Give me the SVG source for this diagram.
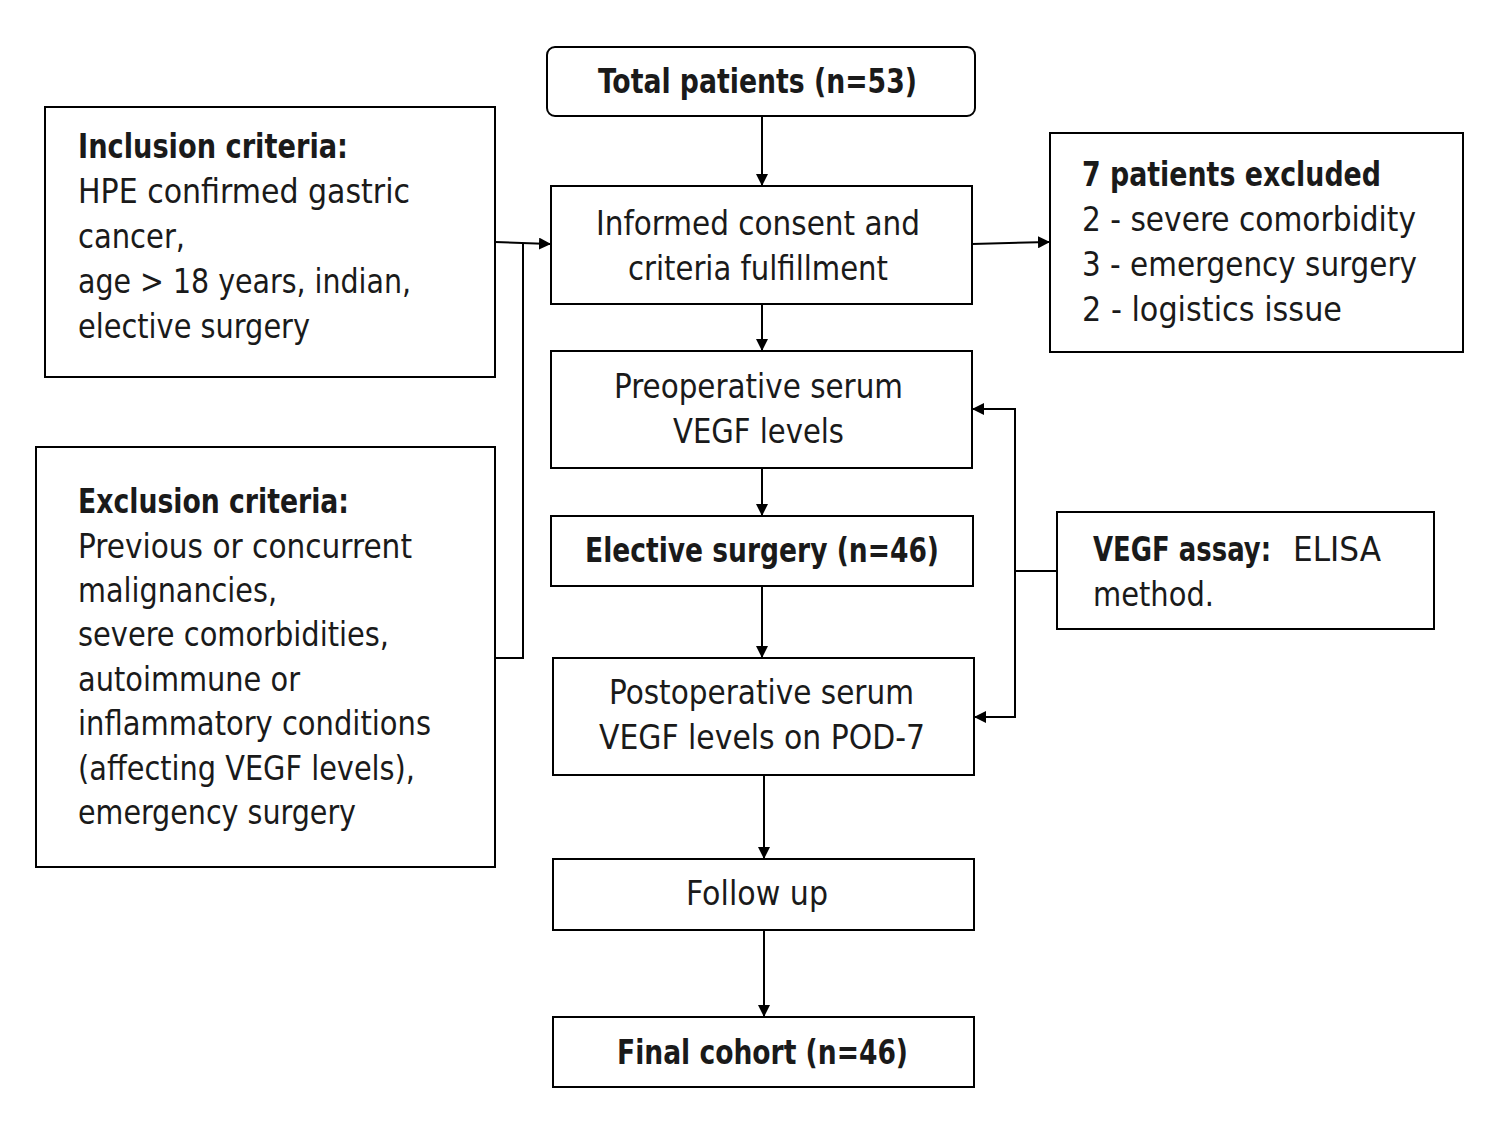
<svg xmlns="http://www.w3.org/2000/svg" width="1497" height="1122" viewBox="0 0 1497 1122">
<defs>
<marker id="ah" markerWidth="12" markerHeight="12" refX="11" refY="6" orient="auto" markerUnits="userSpaceOnUse"><path d="M0,0 L12,6 L0,12 Z" fill="#000"/></marker>
</defs>
<style>
rect{fill:#fff;stroke:#000;stroke-width:2}
text{font-family:"DejaVu Sans Condensed","Roboto","Liberation Sans",sans-serif;font-size:34px;fill:#1a1a1a}
.b{font-weight:bold}
#connectors path{fill:none;stroke:#000;stroke-width:2}
</style>
<rect width="1497" height="1122" style="fill:#fff;stroke:none"/>
<g id="total"><rect x="547" y="47" width="428" height="69" rx="8"/><text class="b" x="598" y="93" textLength="319" lengthAdjust="spacingAndGlyphs">Total patients (n=53)</text></g>
<g id="consent"><rect x="551" y="186" width="421" height="118"/><text x="596" y="235" textLength="324" lengthAdjust="spacingAndGlyphs">Informed consent and</text><text x="628" y="280" textLength="260" lengthAdjust="spacingAndGlyphs">criteria fulfillment</text></g>
<g id="preop"><rect x="551" y="351" width="421" height="117"/><text x="614" y="398" textLength="289" lengthAdjust="spacingAndGlyphs">Preoperative serum</text><text x="673" y="443" textLength="171" lengthAdjust="spacingAndGlyphs">VEGF levels</text></g>
<g id="elective"><rect x="551" y="516" width="422" height="70"/><text class="b" x="585" y="562" textLength="354" lengthAdjust="spacingAndGlyphs">Elective surgery (n=46)</text></g>
<g id="postop"><rect x="553" y="658" width="421" height="117"/><text x="609" y="704" textLength="305" lengthAdjust="spacingAndGlyphs">Postoperative serum</text><text x="599" y="749" textLength="326" lengthAdjust="spacingAndGlyphs">VEGF levels on POD-7</text></g>
<g id="followup"><rect x="553" y="859" width="421" height="71"/><text x="686" y="905" textLength="142" lengthAdjust="spacingAndGlyphs">Follow up</text></g>
<g id="final"><rect x="553" y="1017" width="421" height="70"/><text class="b" x="617" y="1064" textLength="291" lengthAdjust="spacingAndGlyphs">Final cohort (n=46)</text></g>
<g id="inclusion"><rect x="45" y="107" width="450" height="270"/>
<text class="b" x="78" y="158" textLength="270" lengthAdjust="spacingAndGlyphs">Inclusion criteria:</text>
<text x="78" y="203" textLength="332" lengthAdjust="spacingAndGlyphs">HPE confirmed gastric</text>
<text x="78" y="248" textLength="107" lengthAdjust="spacingAndGlyphs">cancer,</text>
<text x="78" y="293" textLength="333" lengthAdjust="spacingAndGlyphs">age &gt; 18 years, indian,</text>
<text x="78" y="338" textLength="232" lengthAdjust="spacingAndGlyphs">elective surgery</text></g>
<g id="exclusion"><rect x="36" y="447" width="459" height="420"/>
<text class="b" x="78" y="513" textLength="271" lengthAdjust="spacingAndGlyphs">Exclusion criteria:</text>
<text x="78" y="558" textLength="334" lengthAdjust="spacingAndGlyphs">Previous or concurrent</text>
<text x="78" y="602" textLength="199" lengthAdjust="spacingAndGlyphs">malignancies,</text>
<text x="78" y="646" textLength="311" lengthAdjust="spacingAndGlyphs">severe comorbidities,</text>
<text x="78" y="691" textLength="222" lengthAdjust="spacingAndGlyphs">autoimmune or</text>
<text x="78" y="735" textLength="353" lengthAdjust="spacingAndGlyphs">inflammatory conditions</text>
<text x="78" y="780" textLength="337" lengthAdjust="spacingAndGlyphs">(affecting VEGF levels),</text>
<text x="78" y="824" textLength="278" lengthAdjust="spacingAndGlyphs">emergency surgery</text></g>
<g id="excluded"><rect x="1050" y="133" width="413" height="219"/>
<text class="b" x="1082" y="186" textLength="299" lengthAdjust="spacingAndGlyphs">7 patients excluded</text>
<text x="1082" y="231" textLength="334" lengthAdjust="spacingAndGlyphs">2 - severe comorbidity</text>
<text x="1082" y="276" textLength="335" lengthAdjust="spacingAndGlyphs">3 - emergency surgery</text>
<text x="1082" y="321" textLength="260" lengthAdjust="spacingAndGlyphs">2 - logistics issue</text></g>
<g id="assay"><rect x="1057" y="512" width="377" height="117"/>
<text class="b" x="1093" y="561" textLength="178" lengthAdjust="spacingAndGlyphs">VEGF assay:</text>
<text x="1293" y="561" textLength="88" lengthAdjust="spacingAndGlyphs">ELISA</text>
<text x="1093" y="606" textLength="121" lengthAdjust="spacingAndGlyphs">method.</text></g>
<g id="connectors">
<path d="M762,116 V185" marker-end="url(#ah)"/>
<path d="M762,304 V350" marker-end="url(#ah)"/>
<path d="M762,468 V515" marker-end="url(#ah)"/>
<path d="M762,586 V657" marker-end="url(#ah)"/>
<path d="M764,775 V858" marker-end="url(#ah)"/>
<path d="M764,930 V1016" marker-end="url(#ah)"/>
<path d="M495,242 L550,244" marker-end="url(#ah)"/>
<path d="M495,658 H523 V244"/>
<path d="M972,244 L1049,242" marker-end="url(#ah)"/>
<path d="M1057,571 H1015"/>
<path d="M1015,717 V409 H973" marker-end="url(#ah)"/>
<path d="M1015,710 V717 H975" marker-end="url(#ah)"/>
</g>
</svg>
